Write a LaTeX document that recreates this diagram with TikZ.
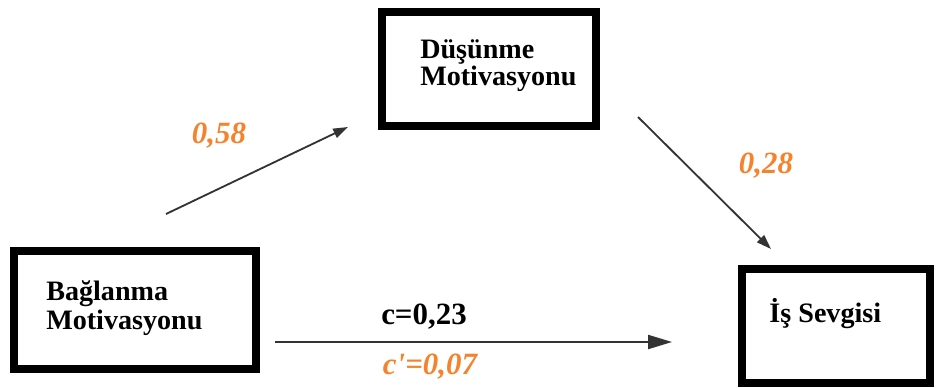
\documentclass[tikz,border=0pt]{standalone}
\usepackage{fontspec}
\setmainfont{Liberation Serif}
\usetikzlibrary{arrows.meta,positioning}
\definecolor{coeforange}{RGB}{245,130,45}

\begin{document}
\begin{tikzpicture}[x=0.025cm, y=-0.025cm,
    varbox/.style={draw, line width=5.7pt, inner sep=0pt},
    boxtext/.style={anchor=west, align=left, inner sep=0pt,
        font=\fontsize{20}{16.5}\selectfont\bfseries},
    effect/.style={draw=black!80, line width=1.3pt, -{Triangle[length=10.5pt,width=7pt]}},
    coef/.style={text=coeforange, font=\fontsize{22}{24}\selectfont\bfseries\itshape}]
    \useasboundingbox (0,0) rectangle (936,388);

    % Variables
    \node[varbox, minimum width=5.35cm, minimum height=2.85cm] (dusunme) at (489,69) {};
    \node[varbox, minimum width=6.05cm, minimum height=2.95cm] (baglanma) at (135,310) {};
    \node[varbox, minimum width=4.7cm, minimum height=2.85cm] (isSevgisi) at (836,326) {};
    \node[boxtext] (dusunmeText) at ([xshift=1.05cm, yshift=0.08cm]dusunme.west) {Düşünme\\Motivasyonu};
    \node[boxtext, font=\fontsize{20}{21}\selectfont\bfseries] (baglanmaText)
        at ([xshift=0.9cm, yshift=0.05cm]baglanma.west) {Bağlanma\\Motivasyonu};
    \node[boxtext] (isSevgisiText) at ([xshift=0.78cm, yshift=0.3cm]isSevgisi.west) {İş Sevgisi};

    % Paths (free ends, the arrows do not touch the boxes)
    \coordinate (aFrom) at (166,214);
    \coordinate (aTo) at (348,127);
    \coordinate (bFrom) at (638,117);
    \coordinate (bTo) at (771,249);
    \coordinate (cFrom) at (275,342);
    \coordinate (cTo) at (672,342);
    \draw[effect] (aFrom) -- (aTo);
    \draw[effect] (bFrom) -- (bTo);
    \draw[effect, -{Triangle[length=17pt,width=10pt]}] (cFrom) -- (cTo);

    % Coefficients
    \node[coef] (aCoef) at (219,136) {0,58};
    \node[coef] (bCoef) at (766,166) {0,28};
    \node[font=\fontsize{22}{24}\selectfont\bfseries] (cCoef) at (424,317) {c=0,23};
    \node[coef] (cPrime) at (430,367) {c\textquotesingle=0,07};
\end{tikzpicture}
\end{document}
